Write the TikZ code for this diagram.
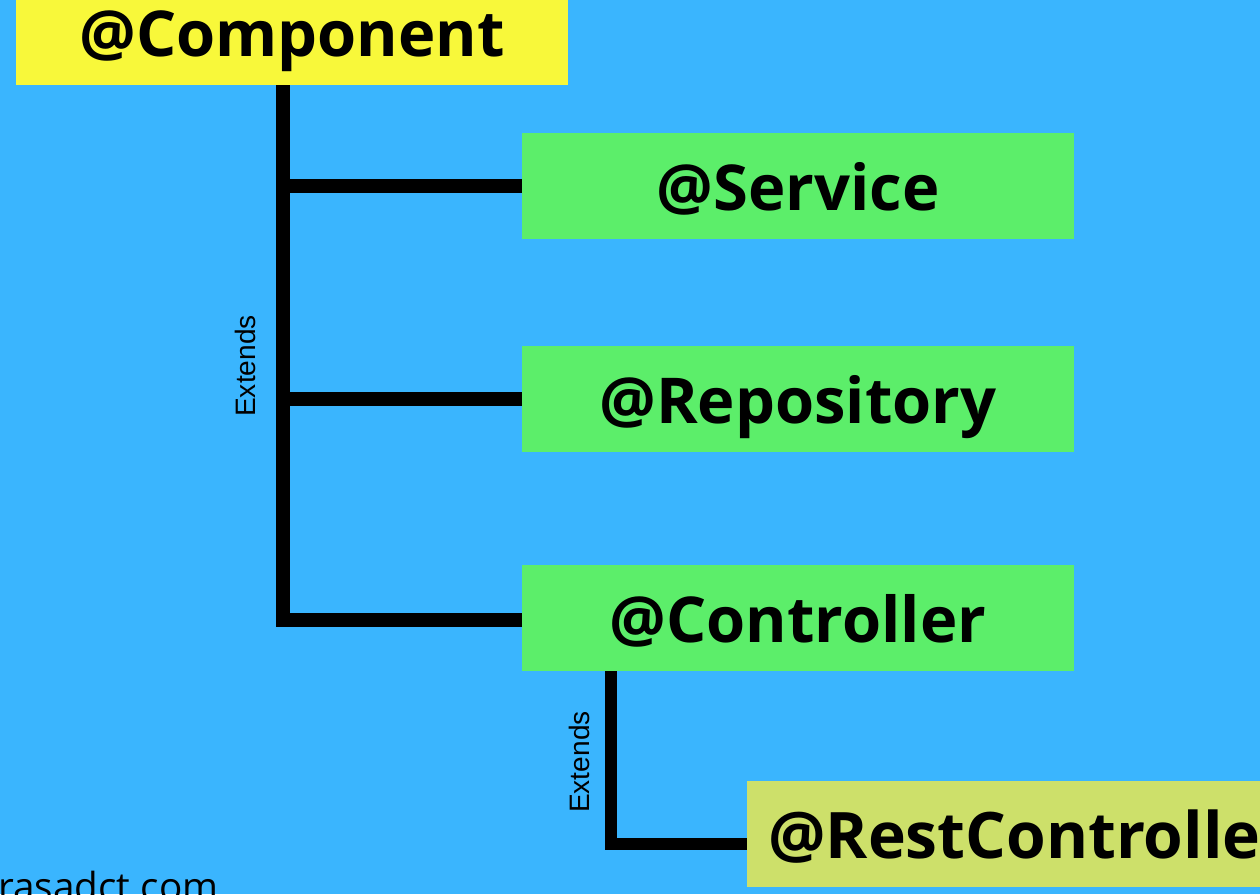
\documentclass[tikz,border=0pt]{standalone}
\usepackage{fontspec}
\setmainfont{Open Sans}
\newfontfamily\extendsfont{Liberation Sans}
\usetikzlibrary{positioning}
\definecolor{canvasblue}{HTML}{3AB5FE}
\definecolor{compyellow}{HTML}{F8F83A}
\definecolor{stereogreen}{HTML}{5CEE6A}
\definecolor{restgreen}{HTML}{CDE06A}
\tikzset{
  stereo/.style={rectangle, minimum width=11.04cm, minimum height=2.12cm, inner sep=0pt, text height=32pt, text depth=4pt, font=\fontsize{36}{40}\selectfont\bfseries},
  link/.style={line width=0.28cm},
  sublink/.style={line width=0.24cm},
  extends/.style={rotate=90, inner sep=0pt, font=\extendsfont\fontsize{16}{18}\selectfont}
}
\newcommand{\stereonode}[4] {\node at (#1) (#2) [stereo, fill=#3] {#4};}
\newcommand{\extendsnode}[2] {\node at (#1) (#2) [extends] {Extends};}

\begin{document}
\begin{tikzpicture}[x=0.02cm, y=-0.02cm]

\fill [canvasblue] (0,0) rectangle (1260,894);
\useasboundingbox (0,0) rectangle (1260,894);
\clip (0,0) rectangle (1260,894);

\stereonode {292,32}{Component}{compyellow}{@Component};
\stereonode {798,186}{Service}{stereogreen}{@Service};
\stereonode {798,399}{Repository}{stereogreen}{@Repository};
\stereonode {798,618}{Controller}{stereogreen}{@Controller};
\stereonode {1029,834}{RestController}{restgreen, minimum width=11.28cm, font=\fontsize{36.5}{40}\selectfont\bfseries}{@RestController};

\coordinate (trunk) at (283,620);
\coordinate (bend) at (611,844);

\draw [link] (Component.south -| trunk) -- (trunk) -- (trunk -| Controller.west);
\draw [link] (trunk |- Service.west) -- (Service.west);
\draw [link] (trunk |- Repository.west) -- (Repository.west);
\draw [sublink] (Controller.south -| bend) -- (bend) -- (bend -| RestController.west);

\extendsnode {245,366}{extendsA};
\extendsnode {579,762}{extendsB};

\node at (-2,900) (site) [anchor=base west, inner sep=0pt, font=\fontsize{22}{26}\selectfont] {rasadct.com};

\end{tikzpicture}
\end{document}
